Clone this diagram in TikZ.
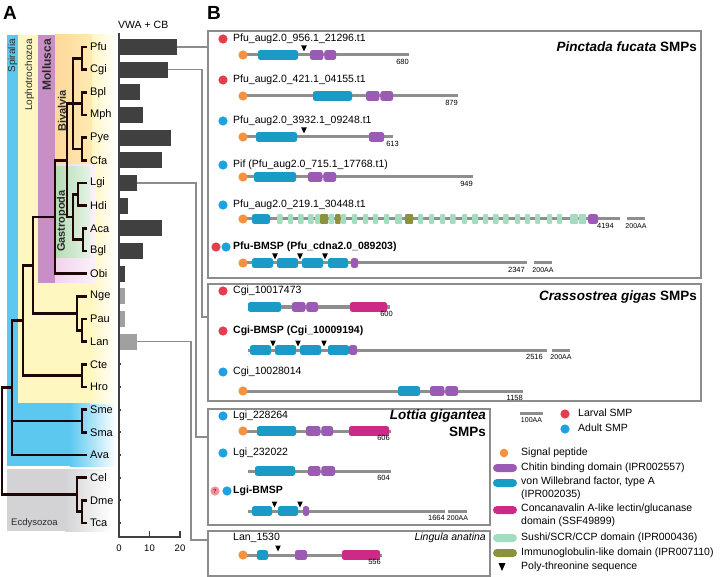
\documentclass[tikz,border=0pt]{standalone}
\usepackage{fontspec}
\setmainfont{Liberation Sans}
\usetikzlibrary{calc}
\definecolor{spblue}{HTML}{5CC8F0}
\definecolor{lophyellow}{HTML}{FFF6C0}
\definecolor{molpurple}{HTML}{C88EC6}
\definecolor{molpink}{HTML}{F2D2EC}
\definecolor{bivorange}{HTML}{FDD89A}
\definecolor{gasgreen}{HTML}{B3DCB3}
\definecolor{ecdgray}{HTML}{D3D3D5}
\definecolor{cladeink}{HTML}{2A2A2A}
\definecolor{treeink}{HTML}{1E0606}
\definecolor{bardark}{HTML}{404040}
\definecolor{barlight}{HTML}{A0A0A0}
\definecolor{linkgray}{HTML}{8C8C8C}
\definecolor{boxgray}{HTML}{8C8C8C}
\definecolor{protgray}{HTML}{8E8E8E}
\definecolor{vwacyan}{HTML}{1A9BC6}
\definecolor{cbpurple}{HTML}{9B5AB3}
\definecolor{conamag}{HTML}{CC2A86}
\definecolor{sushigreen}{HTML}{A3DDBF}
\definecolor{igolive}{HTML}{8A923E}
\definecolor{sigorange}{HTML}{F6913F}
\definecolor{larval}{HTML}{E63C4E}
\definecolor{adult}{HTML}{1CA1E2}
\definecolor{qpink}{HTML}{F0939E}
% domain pieces, positions in px of the 720x577 frame
\newcommand{\prot}[3]{\draw[prot] (#1,#3) -- (#2,#3);}
\newcommand{\dom}[4]{\fill[rounded corners=2pt,#1] (#2,#4-4.8) rectangle (#3,#4+4.8);}
\newcommand{\polyT}[2]{\fill[black] (#1-2.8,#2-9.5) -- (#1+2.8,#2-9.5) -- (#1,#2-3.5) -- cycle;}
\newcommand{\sigp}[2]{\fill[sigorange] (#1,#2) circle (4.6pt);}
\newcommand{\aalen}[3]{\node[lenlab] (len#3) at (#1,#2+4.5) {#3};}
\newcommand{\scalebar}[3]{\draw[prot] (#1,#3) -- (#2,#3); \node[scalelab] (sb#1) at ({(#1+#2)/2},#3+4.5) {200AA};}

\begin{document}
\begin{tikzpicture}[x=1pt,y=-1pt,
  tiplab/.style={anchor=west, inner sep=0pt, font=\fontsize{11}{13}\selectfont},
  tree/.style={draw=treeink, line width=2.8pt},
  link/.style={draw=linkgray, line width=1.3pt},
  axis/.style={draw=bardark, line width=1.8pt},
  smpbox/.style={draw=boxgray, line width=1.6pt, anchor=north west, inner sep=0pt},
  prot/.style={draw=protgray, line width=3pt},
  vwa/.style={fill=vwacyan}, cbd/.style={fill=cbpurple}, cona/.style={fill=conamag},
  sushi/.style={fill=sushigreen, rounded corners=0.8pt}, igl/.style={fill=igolive, rounded corners=0.8pt},
  protname/.style={anchor=west, inner sep=0pt, font=\fontsize{10.5}{12}\selectfont},
  lenlab/.style={anchor=north east, inner sep=0pt, font=\fontsize{7.5}{9}\selectfont},
  scalelab/.style={anchor=north, inner sep=0pt, font=\fontsize{7}{8}\selectfont},
  clade/.style={rotate=90, anchor=east, inner sep=0pt, text=cladeink},
  boxtitle/.style={anchor=east, inner sep=0pt, font=\fontsize{13.5}{17}\selectfont\bfseries},
  legtext/.style={anchor=west, inner sep=0pt, align=left, font=\fontsize{10.5}{13.5}\selectfont},
  pill/.style={rounded corners=4pt}
]
\useasboundingbox (0,0) rectangle (720,577);

% panel letters
\node[anchor=base west, inner sep=0pt, font=\fontsize{19}{22}\selectfont\bfseries] (panelA) at (3,19.5) {A};
\node[anchor=base west, inner sep=0pt, font=\fontsize{19}{22}\selectfont\bfseries] (panelB) at (207,19.5) {B};

% clade bands
\fill[spblue] (7,35) rectangle (70,466);
\shade[left color=spblue, right color=white] (70,35) rectangle (116,466);
\fill[lophyellow] (18,35) rectangle (90,403);
\shade[left color=lophyellow, right color=white] (90,35) rectangle (117,403);
\fill[molpurple] (38,35) rectangle (55,283);
\shade[left color=molpink, right color=molpink!30!white] (55,164) rectangle (95,283);
\shade[left color=bivorange, right color=bivorange!40!lophyellow] (55,35) rectangle (92,164);
\shade[left color=gasgreen, right color=gasgreen!35!white] (55,167) rectangle (90,258);
\fill[ecdgray] (7,469) rectangle (65,531);
\shade[left color=ecdgray, right color=white] (65,469) rectangle (112,531);

\node[clade, font=\fontsize{10}{12}\selectfont] (spiralia) at (12.5,39) {Spiralia};
\node[clade, font=\fontsize{10}{12}\selectfont] (lopho) at (29.5,39) {Lophotrochozoa};
\node[clade, font=\fontsize{12}{14}\selectfont\bfseries] (mollusca) at (46.5,39) {Mollusca};
\node[clade, font=\fontsize{11}{13}\selectfont\bfseries] (bivalvia) at (62,90) {Bivalvia};
\node[clade, font=\fontsize{11}{13}\selectfont\bfseries] (gastro) at (62,190) {Gastropoda};
\node[anchor=west, inner sep=0pt, font=\fontsize{9.5}{11}\selectfont, text=cladeink] (ecdyso) at (11,523) {Ecdysozoa};

% species, tips and VWA + CB bars
\foreach \sp/\v/\c [count=\i from 0] in {Pfu/19/bardark, Cgi/16/bardark, Bpl/7/bardark, Mph/8/bardark,
    Pye/17/bardark, Cfa/14/bardark, Lgi/6/bardark, Hdi/3/bardark, Aca/14/bardark, Bgl/8/bardark,
    Obi/2/bardark, Nge/2/barlight, Pau/2/barlight, Lan/6/barlight, Cte/0/bardark, Hro/0/bardark,
    Sme/0/bardark, Sma/0/bardark, Ava/0/bardark, Cel/0/bardark, Dme/0/bardark, Tca/0/bardark}{
  \pgfmathsetmacro{\y}{47+22.667*\i}
  \node[tiplab] (\sp) at (90,\y) {\sp};
  \coordinate (t\sp) at (87,\y);
  \fill[\c] (119,\y-8) rectangle ({119+3.05*\v},\y+8);
  \coordinate (b\sp) at ({119+3.05*\v},\y);
}
\foreach \sp in {Cte,Hro,Sme,Sma,Ava,Cel,Dme,Tca}
  \draw[bardark, line width=1.8pt] (b\sp) -- ++(2.2,0);

\draw[axis] (119,33) -- (119,537) -- (181,537);
\foreach \t/\xx in {0/119,10/149.5,20/180}{
  \draw[axis] (\xx,537) -- (\xx,531);
  \node[inner sep=0pt, font=\fontsize{9.5}{11}\selectfont] (tick\t) at (\xx,548) {\t};
}
\node[anchor=west, inner sep=0pt, font=\fontsize{10.5}{12}\selectfont] (vwacb) at (118,25) {VWA + CB};

% tree
\coordinate (n1) at (82,58.33);
\coordinate (n2) at (82,103.67);
\coordinate (n3) at (82,149);
\coordinate (biv) at (73,103.67);
\coordinate (n9) at (78,194.33);
\coordinate (n10) at (83,239.67);
\coordinate (gas) at (73,217);
\coordinate (bg) at (67,160.33);
\coordinate (mol) at (55,217);
\coordinate (n4) at (82,330.33);
\coordinate (n5) at (77,313.33);
\coordinate (lophA) at (33,265.17);
\coordinate (n6) at (82,375.67);
\coordinate (loph) at (23,320.42);
\coordinate (n7) at (82,421);
\coordinate (spir) at (12,387.7);
\coordinate (n8) at (82,511.67);
\coordinate (ecd) at (77,494.67);
\coordinate (root) at (2,441.2);

\draw[tree] (tPfu) -| (n1) |- (tCgi);
\draw[tree] (tBpl) -| (n2) |- (tMph);
\draw[tree] (tPye) -| (n3) |- (tCfa);
\draw[tree] (n1) -| (biv) |- (n3);
\draw[tree] (n2) -- (biv);
\draw[tree] (tLgi) -| (n9) |- (tHdi);
\draw[tree] (tAca) -| (n10) |- (tBgl);
\draw[tree] (n9) -| (gas) |- (n10);
\draw[tree] (biv) -| (bg) |- (gas);
\draw[tree] (bg) -| (mol) |- (tObi);
\draw[tree] (tPau) -| (n4) |- (tLan);
\draw[tree] (tNge) -| (n5) |- (n4);
\draw[tree] (mol) -| (lophA) |- (n5);
\draw[tree] (tCte) -| (n6) |- (tHro);
\draw[tree] (lophA) -| (loph) |- (n6);
\draw[tree] (tSme) -| (n7) |- (tSma);
\draw[tree] (loph) -| (spir) |- (tAva);
\draw[tree] (n7) -- (n7 -| spir);
\draw[tree] (tDme) -| (n8) |- (tTca);
\draw[tree] (tCel) -| (ecd) |- (n8);
\draw[tree] (spir) -| (root) |- (ecd);

% SMP boxes
\node[smpbox, minimum width=493pt, minimum height=247pt] (pfubox) at (207,30) {};
\node[smpbox, minimum width=493pt, minimum height=117pt] (cgibox) at (207,283) {};
\node[smpbox, minimum width=282pt, minimum height=116pt] (lgibox) at (207,408) {};
\node[smpbox, minimum width=282pt, minimum height=45pt] (lanbox) at (207,530) {};

\coordinate (cgiin) at ($(cgibox.north west)+(0,34)$);
\coordinate (lgiin) at ($(lgibox.north west)+(0,29)$);
\coordinate (lanin) at ($(lanbox.north west)+(0,10)$);
\draw[link] (bPfu) -- (bPfu -| pfubox.west);
\draw[link] (bCgi) -| ([xshift=-5pt]cgiin) -- (cgiin);
\draw[link] (bLgi) -| ([xshift=-11pt]lgiin) -- (lgiin);
\draw[link] (bLan) -| ([xshift=-16pt]lanin) -- (lanin);

\node[boxtitle] (pfutitle) at (697,47) {\textit{Pinctada fucata} SMPs};
\node[boxtitle] (cgititle) at (697,297) {\textit{Crassostrea gigas} SMPs};
\node[boxtitle, align=right] (lgititle) at (486,423.5) {\textit{Lottia gigantea}\\SMPs};
\node[anchor=east, inner sep=0pt, font=\fontsize{10.5}{12}\selectfont\itshape] (lantitle) at (486,538) {Lingula anatina};

% Pinctada fucata
\fill[larval] (223,39) circle (4.6pt);
\node[protname] (p1) at (233,39) {Pfu\_aug2.0\_956.1\_21296.t1};
\prot{243}{409}{55} \sigp{243}{55}
\dom{vwa}{258}{298}{55} \polyT{304}{55}
\dom{cbd}{310}{323.4}{55} \dom{cbd}{324.4}{336}{55}
\aalen{409}{55}{680}

\fill[larval] (223,80) circle (4.6pt);
\node[protname] (p2) at (233,80) {Pfu\_aug2.0\_421.1\_04155.t1};
\prot{243}{458}{96} \sigp{243}{96}
\dom{vwa}{313}{352}{96}
\dom{cbd}{366}{379.4}{96} \dom{cbd}{380.4}{393}{96}
\aalen{458}{96}{879}

\fill[adult] (223,121) circle (4.6pt);
\node[protname] (p3) at (233,121) {Pfu\_aug2.0\_3932.1\_09248.t1};
\prot{243}{393}{137} \sigp{243}{137}
\dom{vwa}{256}{297}{137} \polyT{304}{137}
\dom{cbd}{369}{384}{137}
\aalen{399}{137}{613}

\fill[adult] (223,165) circle (4.6pt);
\node[protname] (p4) at (233,165) {Pif (Pfu\_aug2.0\_715.1\_17768.t1)};
\prot{243}{473}{177} \sigp{243}{177}
\dom{vwa}{254}{296}{177}
\dom{cbd}{308}{322.4}{177} \dom{cbd}{323.4}{336}{177}
\aalen{473}{177}{949}

\fill[adult] (223,205) circle (4.6pt);
\node[protname] (p5) at (233,205) {Pfu\_aug2.0\_219.1\_30448.t1};
\prot{243}{620}{219} \sigp{243}{219}
\dom{vwa}{252}{270}{219}
\foreach \a/\b in {277/282.5, 288/293, 298/303.5, 308/313.5, 315/320, 328.5/334, 341/346, 352/357,
    363/368, 373/378, 384/389, 395/402, 418/423, 429/434, 440/445, 450/455.5, 462/467, 472/478,
    483/488, 493/498.5, 503/508.5, 515/520, 525/530, 535/540, 547/552, 557/562, 570/578, 578.8/586}
  {\dom{sushi}{\a}{\b}{219}}
\foreach \a/\b in {320/328, 335/340.5, 405/413}
  {\dom{igl}{\a}{\b}{219}}
\dom{cbd}{588}{598}{219}
\aalen{614}{219}{4194}
\scalebar{627}{645}{219}

\fill[larval] (216,247) circle (4.6pt);
\fill[adult] (226,247) circle (4.6pt);
\node[protname, font=\fontsize{10.5}{12}\selectfont\bfseries] (p6) at (233,247) {Pfu-BMSP (Pfu\_cdna2.0\_089203)};
\prot{243}{527}{263} \sigp{243}{263}
\dom{vwa}{252}{273}{263} \dom{vwa}{277}{298}{263} \dom{vwa}{302}{323}{263} \dom{vwa}{328}{348}{263}
\polyT{275}{263} \polyT{300}{263} \polyT{325}{263}
\dom{cbd}{351}{358}{263}
\aalen{525}{263}{2347}
\scalebar{534}{552}{263}

% Crassostrea gigas
\fill[larval] (223,291) circle (4.6pt);
\node[protname] (p7) at (233,291) {Cgi\_10017473};
\prot{248}{390}{307}
\dom{vwa}{248}{281}{307}
\dom{cbd}{292}{305.4}{307} \dom{cbd}{306.4}{318}{307}
\dom{cona}{350}{387}{307}
\aalen{393}{307}{600}

\fill[larval] (223,331) circle (4.6pt);
\node[protname, font=\fontsize{10.5}{12}\selectfont\bfseries] (p8) at (233,331) {Cgi-BMSP (Cgi\_10009194)};
\prot{248}{547}{350}
\dom{vwa}{250}{271}{350} \dom{vwa}{275}{296}{350} \dom{vwa}{300}{321}{350} \dom{vwa}{328}{349}{350}
\polyT{273}{350} \polyT{298}{350} \polyT{324}{350}
\dom{cbd}{349}{357}{350}
\aalen{543}{350}{2516}
\scalebar{552}{570}{350}

\fill[adult] (223,372) circle (4.6pt);
\node[protname] (p9) at (233,372) {Cgi\_10028014};
\prot{243}{523}{391} \sigp{243}{391}
\dom{vwa}{398}{420}{391}
\dom{cbd}{430}{444.4}{391} \dom{cbd}{445.4}{458}{391}
\aalen{523}{391}{1158}

% Lottia gigantea
\fill[adult] (223,416) circle (4.6pt);
\node[protname] (p10) at (233,416) {Lgi\_228264};
\prot{243}{391}{431} \sigp{243}{431}
\dom{vwa}{257}{296}{431}
\dom{cbd}{306}{320.4}{431} \dom{cbd}{321.4}{333}{431}
\dom{cona}{349}{389}{431}
\aalen{390}{431}{606}

\fill[adult] (223,453) circle (4.6pt);
\node[protname] (p11) at (233,453) {Lgi\_232022};
\prot{248}{391}{471}
\dom{vwa}{255}{295}{471}
\dom{cbd}{308}{320.4}{471} \dom{cbd}{321.4}{335}{471}
\aalen{390}{471}{604}

\node[circle, fill=qpink, inner sep=0pt, minimum size=9.2pt, font=\fontsize{6}{7}\selectfont\bfseries, text=larval!60!black] (qmark) at (215,491) {?};
\fill[adult] (227,491) circle (4.6pt);
\node[protname, font=\fontsize{10.5}{12}\selectfont\bfseries] (p12) at (233,491) {Lgi-BMSP};
\prot{248}{445}{511}
\dom{vwa}{252}{272}{511} \dom{vwa}{278}{298}{511}
\polyT{274.5}{511} \polyT{300}{511}
\dom{cbd}{303}{309}{511}
\aalen{445}{511}{1664}
\scalebar{448}{467}{511}

% Lingula anatina
\node[protname] (p13) at (233,538) {Lan\_1530};
\prot{243}{382}{555} \sigp{243}{555}
\dom{vwa}{257}{268}{555} \polyT{278}{555}
\dom{cbd}{295}{307}{555}
\dom{cona}{342}{380}{555}
\aalen{381}{555}{556}

% legend
\draw[prot] (520,413) -- (543,413);
\node[scalelab] (aa100) at (531.5,417.5) {100AA};
\fill[larval] (565,414) circle (4.6pt);
\node[legtext] (larvtext) at (578,413) {Larval SMP};
\fill[adult] (565,429) circle (4.6pt);
\node[legtext] (adulttext) at (578,428) {Adult SMP};
\fill[sigorange] (504,453) circle (4.3pt);
\node[legtext] (sigtext) at (521,453) {Signal peptide};
\fill[cbd, pill] (493,464) rectangle (517,472);
\node[legtext] (cbtext) at (521,468) {Chitin binding domain (IPR002557)};
\fill[vwa, pill] (493,479) rectangle (517,487);
\node[legtext, anchor=north west] (vwatext) at (521,476.5) {von Willebrand factor, type A\\(IPR002035)};
\fill[cona, pill] (493,506) rectangle (517,514);
\node[legtext, anchor=north west] (conatext) at (521,503.5) {Concanavalin A-like lectin/glucanase\\domain (SSF49899)};
\fill[sushi, pill] (493,534) rectangle (517,542);
\node[legtext] (sushitext) at (521,538) {Sushi/SCR/CCP domain (IPR000436)};
\fill[igl, pill] (493,549) rectangle (517,557);
\node[legtext] (igtext) at (521,553) {Immunoglobulin-like domain (IPR007110)};
\fill[black] (498.5,563) -- (505.5,563) -- (502,571) -- cycle;
\node[legtext] (polytext) at (521,567) {Poly-threonine sequence};
\end{tikzpicture}
\end{document}
